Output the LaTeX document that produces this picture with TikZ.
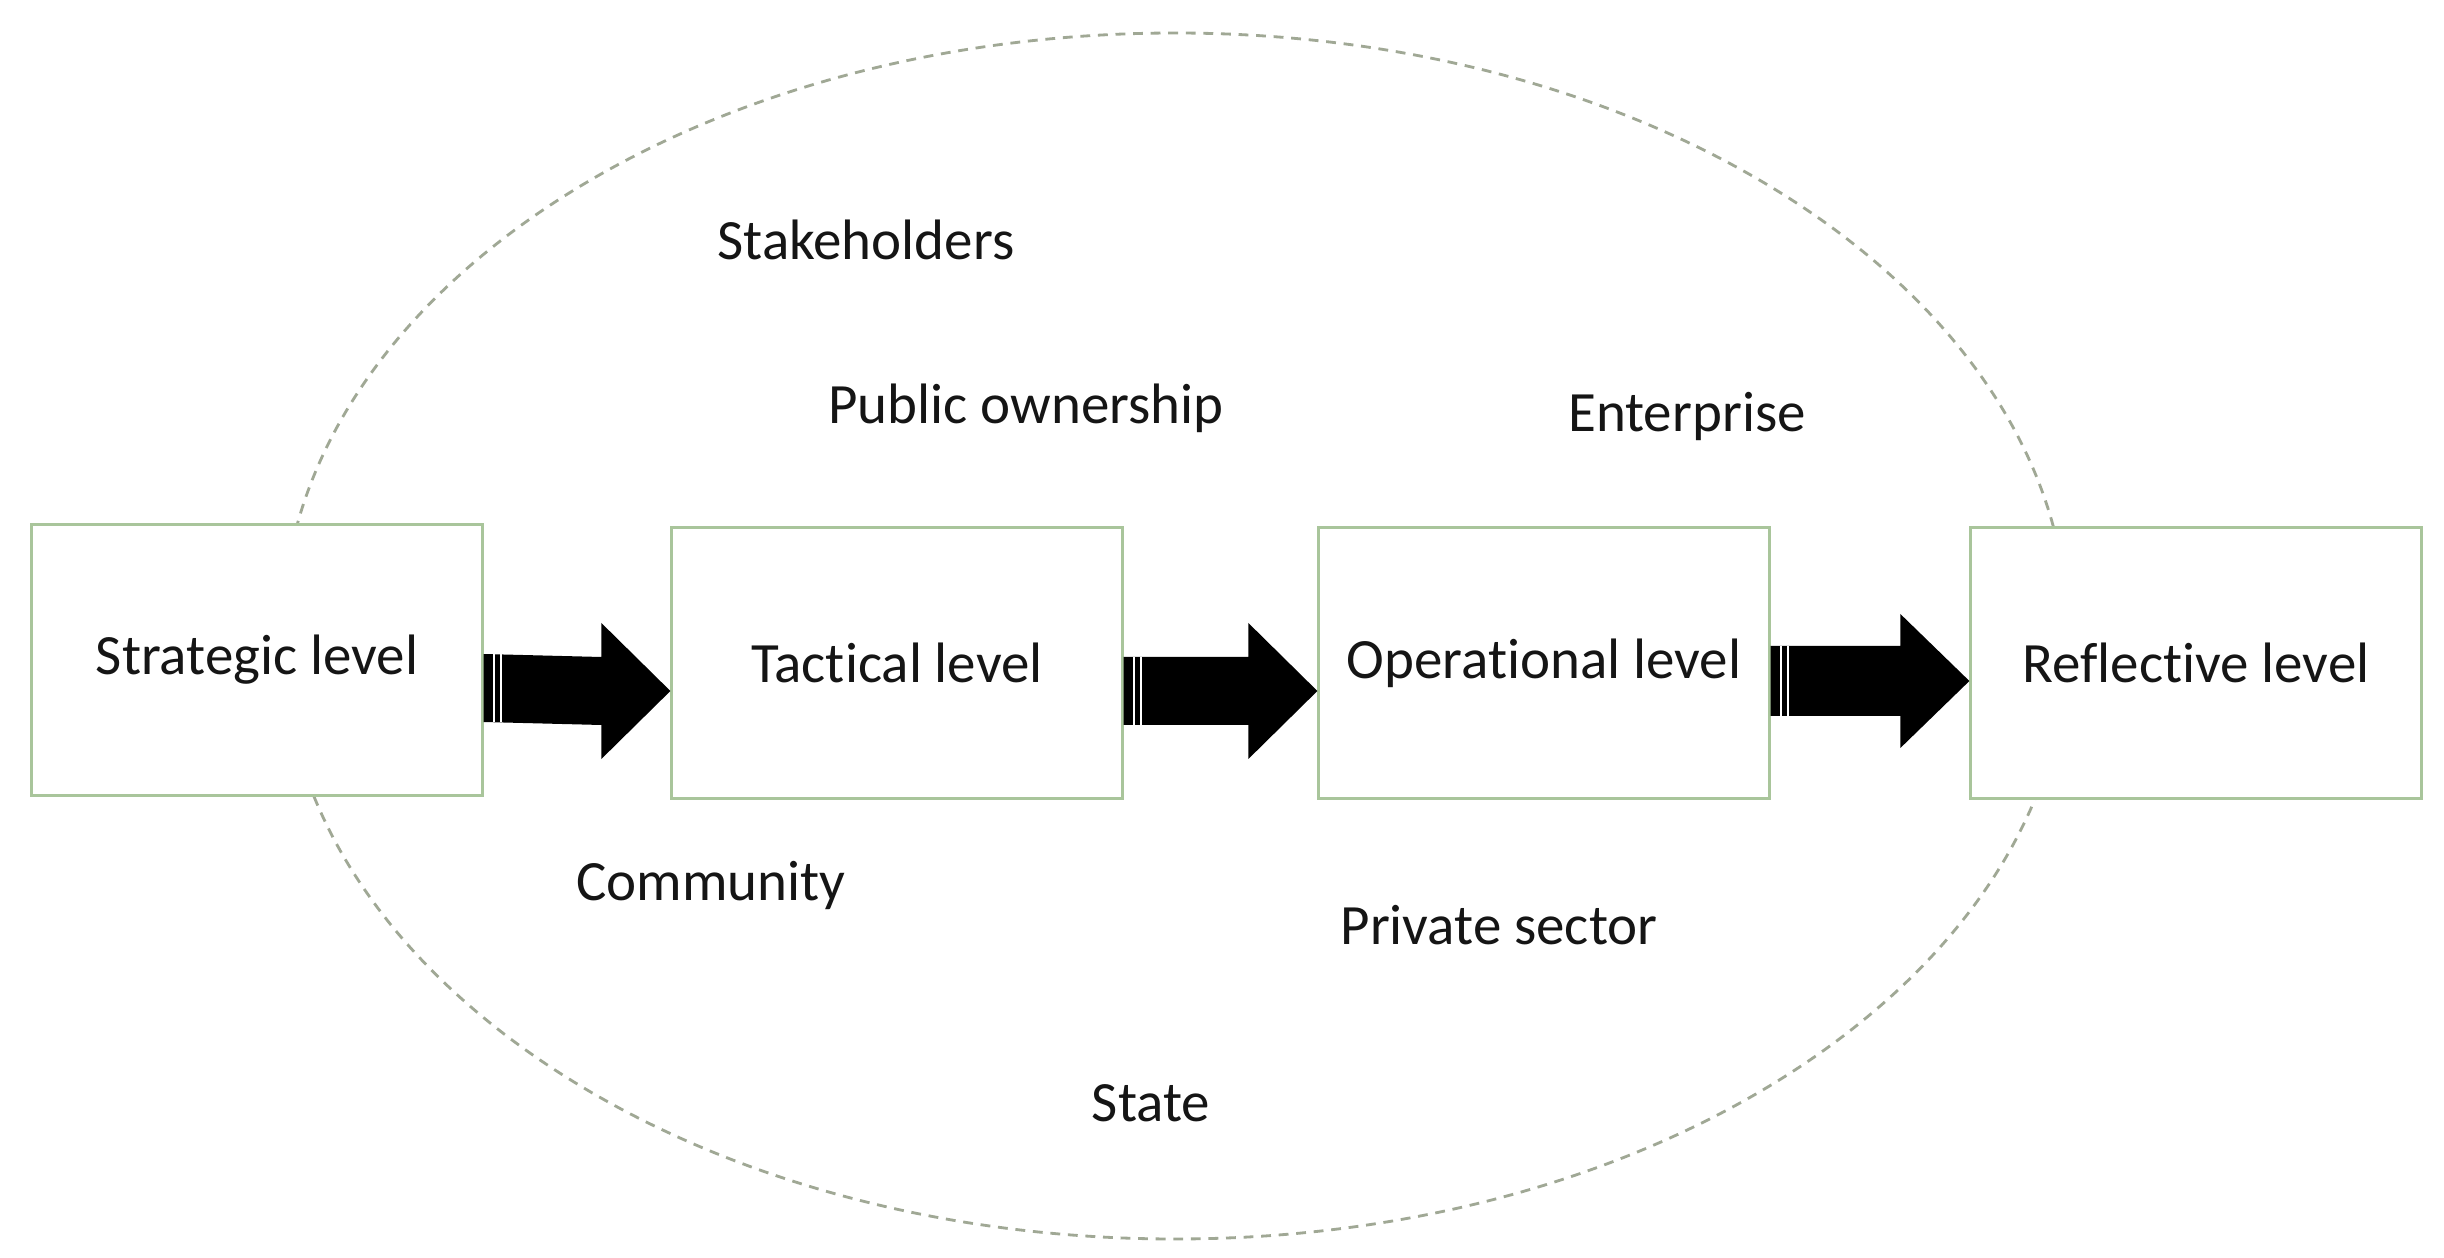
\documentclass[tikz,border=0pt]{standalone}
\usepackage{fontspec}
\setmainfont{Carlito}[Ligatures={NoCommon,NoContextual},RawFeature={-liga;-clig;-dlig}]
\usetikzlibrary{calc}
\definecolor{boxgreen}{HTML}{A9C59B}
\definecolor{ellgray}{HTML}{A0A895}
\definecolor{txt}{HTML}{151515}
\newcommand\blockarrow[5]{% from, to, dy, shaft half, head half
  \coordinate (s#1) at ($(#1.east)+(0,#3)$);
  \coordinate (t#1) at ($(#2.west)+(0,#3)$);
  \fill[black] ($(s#1)+(0,-#4)$) -- ($(t#1)+(-69,-#4)$) -- ($(t#1)+(-69,-#5)$) -- (t#1)
    -- ($(t#1)+(-69,#5)$) -- ($(t#1)+(-69,#4)$) -- ($(s#1)+(0,#4)$) -- cycle;
  \fill[white] ($(s#1)+(9,-#4)$) rectangle ($(s#1)+(11,#4)$);
  \fill[white] ($(s#1)+(16,-#4)$) rectangle ($(s#1)+(18,#4)$);
}
\begin{document}
\begin{tikzpicture}[x=0.01cm,y=-0.01cm,
  levelbox/.style={draw=boxgreen,line width=0.85pt,fill=white,minimum width=4.5cm,minimum height=2.7cm,inner sep=0pt,font=\fontsize{16.2pt}{19pt}\selectfont,text=txt},
  lbl/.style={anchor=base,inner sep=0pt,font=\fontsize{16.2pt}{19pt}\selectfont,text=txt}]
\useasboundingbox[fill=white] (0,0) rectangle (2444,1258);
\draw[ellgray,line width=0.8pt,dash pattern=on 2.8pt off 2.2pt] (1175,636) ellipse [x radius=893, y radius=603];
\node[levelbox] (sl) at (257,660) {Strategic level};
\node[levelbox] (tl) at (897,663) {Tactical level};
\node[levelbox] (ol) at (1544,663) {Operational level};
\node[levelbox] (rl) at (2196,663) {Reflective level};
\blockarrow{sl}{tl}{28}{34}{68}
\blockarrow{tl}{ol}{28}{34}{68}
\blockarrow{ol}{rl}{18}{35}{67}
\node[lbl] (stk) at (866,260) {Stakeholders};
\node[lbl] (pub) at (1026,424) {Public ownership};
\node[lbl] (ent) at (1687,432) {Enterprise};
\node[lbl] (com) at (711,901) {Community};
\node[lbl] (pri) at (1499,945) {Private sector};
\node[lbl] (sta) at (1151,1121) {State};
\end{tikzpicture}
\end{document}
